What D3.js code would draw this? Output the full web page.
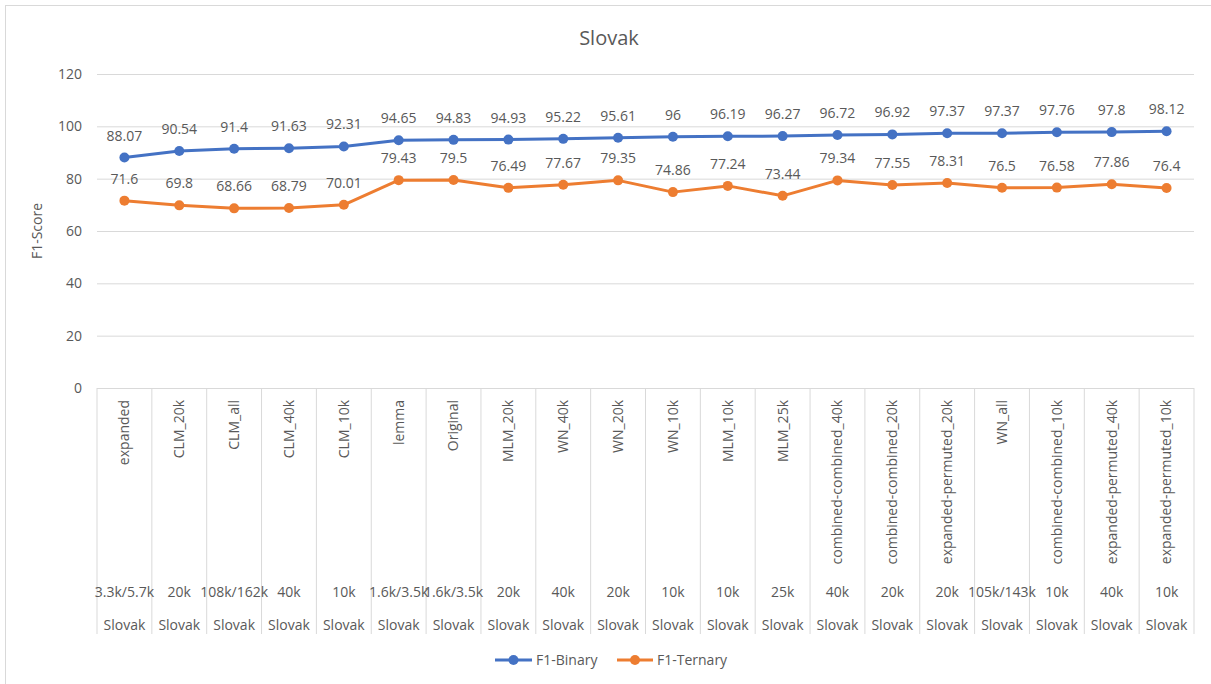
<!DOCTYPE html>
<html>
<head>
<meta charset="utf-8">
<script src="https://cdn.jsdelivr.net/npm/d3@7"></script>
<style>
  body { margin: 0; background: #fff; }
  svg text { font-family: "Open Sans", sans-serif; fill: #595959; }
</style>
</head>
<body>
<svg id="chart" width="1211" height="684"></svg>
<script>
const methods = ["expanded", "CLM_20k", "CLM_all", "CLM_40k", "CLM_10k", "lemma", "Original",
  "MLM_20k", "WN_40k", "WN_20k", "WN_10k", "MLM_10k", "MLM_25k", "combined-combined_40k",
  "combined-combined_20k", "expanded-permuted_20k", "WN_all", "combined-combined_10k",
  "expanded-permuted_40k", "expanded-permuted_10k"];
const sizes = ["3.3k/5.7k", "20k", "108k/162k", "40k", "10k", "1.6k/3.5k", "1.6k/3.5k",
  "20k", "40k", "20k", "10k", "10k", "25k", "40k", "20k", "20k", "105k/143k", "10k", "40k", "10k"];
const languages = methods.map(() => "Slovak");
const binary = [88.07, 90.54, 91.4, 91.63, 92.31, 94.65, 94.83, 94.93, 95.22, 95.61,
  96, 96.19, 96.27, 96.72, 96.92, 97.37, 97.37, 97.76, 97.8, 98.12];
const ternary = [71.6, 69.8, 68.66, 68.79, 70.01, 79.43, 79.5, 76.49, 77.67, 79.35,
  74.86, 77.24, 73.44, 79.34, 77.55, 78.31, 76.5, 76.58, 77.86, 76.4];
const yTicks = [0, 20, 40, 60, 80, 100, 120];

const svg = d3.select("#chart");
const margin = { top: 74, left: 97, right: 1194, bottom: 388 };
const gridColor = "#D9D9D9";

// borda externa
svg.append("rect")
  .attr("x", 5.5).attr("y", 5.5)
  .attr("width", 1220).attr("height", 700)
  .attr("fill", "none").attr("stroke", gridColor);

// titulo
svg.append("text")
  .attr("x", 609).attr("y", 45)
  .attr("text-anchor", "middle")
  .style("font-size", "20px")
  .text("Slovak");

const x = d3.scaleBand()
  .domain(d3.range(methods.length))
  .range([margin.left, margin.right]);

const y = d3.scaleLinear()
  .domain([0, 120])
  .range([margin.bottom, margin.top]);

const cx = i => x(i) + x.bandwidth() / 2;

// eixo y + grade
const yAxis = svg.append("g")
  .attr("transform", `translate(${margin.left},0)`)
  .call(d3.axisLeft(y).tickValues(yTicks).tickSize(-(margin.right - margin.left)).tickPadding(15));
yAxis.select(".domain").remove();
yAxis.selectAll("line").attr("stroke", gridColor);
yAxis.selectAll("text")
  .style("font-size", "14px")
  .style("font-family", "'Open Sans', sans-serif")
  .attr("fill", "#595959");

// titulo do eixo y
svg.append("text")
  .attr("transform", `translate(42,${(margin.top + margin.bottom) / 2}) rotate(-90)`)
  .attr("text-anchor", "middle")
  .style("font-size", "14px")
  .text("F1-Score");

// eixo x com categorias em varios niveis
const xAxis = svg.append("g");
xAxis.selectAll("line.sep")
  .data(d3.range(methods.length + 1))
  .join("line")
  .attr("class", "sep")
  .attr("x1", i => i < methods.length ? x(i) : margin.right)
  .attr("x2", i => i < methods.length ? x(i) : margin.right)
  .attr("y1", margin.bottom)
  .attr("y2", 634)
  .attr("stroke", gridColor);

xAxis.selectAll("text.method")
  .data(methods)
  .join("text")
  .attr("class", "method")
  .attr("transform", (d, i) => `translate(${cx(i)},400) rotate(-90)`)
  .attr("text-anchor", "end")
  .attr("dy", "0.35em")
  .style("font-size", "14px")
  .text(d => d);

xAxis.selectAll("text.size")
  .data(sizes)
  .join("text")
  .attr("class", "size")
  .attr("x", (d, i) => cx(i))
  .attr("y", 597)
  .attr("text-anchor", "middle")
  .style("font-size", "14px")
  .text(d => d);

xAxis.selectAll("text.lang")
  .data(languages)
  .join("text")
  .attr("class", "lang")
  .attr("x", (d, i) => cx(i))
  .attr("y", 630)
  .attr("text-anchor", "middle")
  .style("font-size", "14px")
  .text(d => d);

// series
const series = [
  { name: "F1-Binary", values: binary, color: "#4472C4" },
  { name: "F1-Ternary", values: ternary, color: "#ED7D31" }
];

const line = d3.line()
  .x((d, i) => cx(i))
  .y(d => y(d));

series.forEach(s => {
  svg.append("path")
    .datum(s.values)
    .attr("fill", "none")
    .attr("stroke", s.color)
    .attr("stroke-width", 3)
    .attr("stroke-linejoin", "round")
    .attr("d", line);

  svg.append("g").selectAll("circle")
    .data(s.values)
    .join("circle")
    .attr("cx", (d, i) => cx(i))
    .attr("cy", d => y(d))
    .attr("r", 5)
    .attr("fill", s.color);

  svg.append("g").selectAll("text")
    .data(s.values)
    .join("text")
    .attr("x", (d, i) => cx(i))
    .attr("y", d => y(d) - 17)
    .attr("text-anchor", "middle")
    .style("font-size", "14px")
    .text(d => d);
});

// legenda
const legendPos = [{ x0: 495, x1: 532, tx: 536 }, { x0: 617, x1: 653, tx: 657 }];
series.forEach((s, k) => {
  const p = legendPos[k];
  const g = svg.append("g");
  g.append("line")
    .attr("x1", p.x0).attr("x2", p.x1)
    .attr("y1", 660).attr("y2", 660)
    .attr("stroke", s.color).attr("stroke-width", 3);
  g.append("circle")
    .attr("cx", (p.x0 + p.x1) / 2).attr("cy", 660)
    .attr("r", 5).attr("fill", s.color);
  g.append("text")
    .attr("x", p.tx).attr("y", 660)
    .attr("dy", "0.35em")
    .style("font-size", "14px")
    .text(s.name);
});
</script>
</body>
</html>
